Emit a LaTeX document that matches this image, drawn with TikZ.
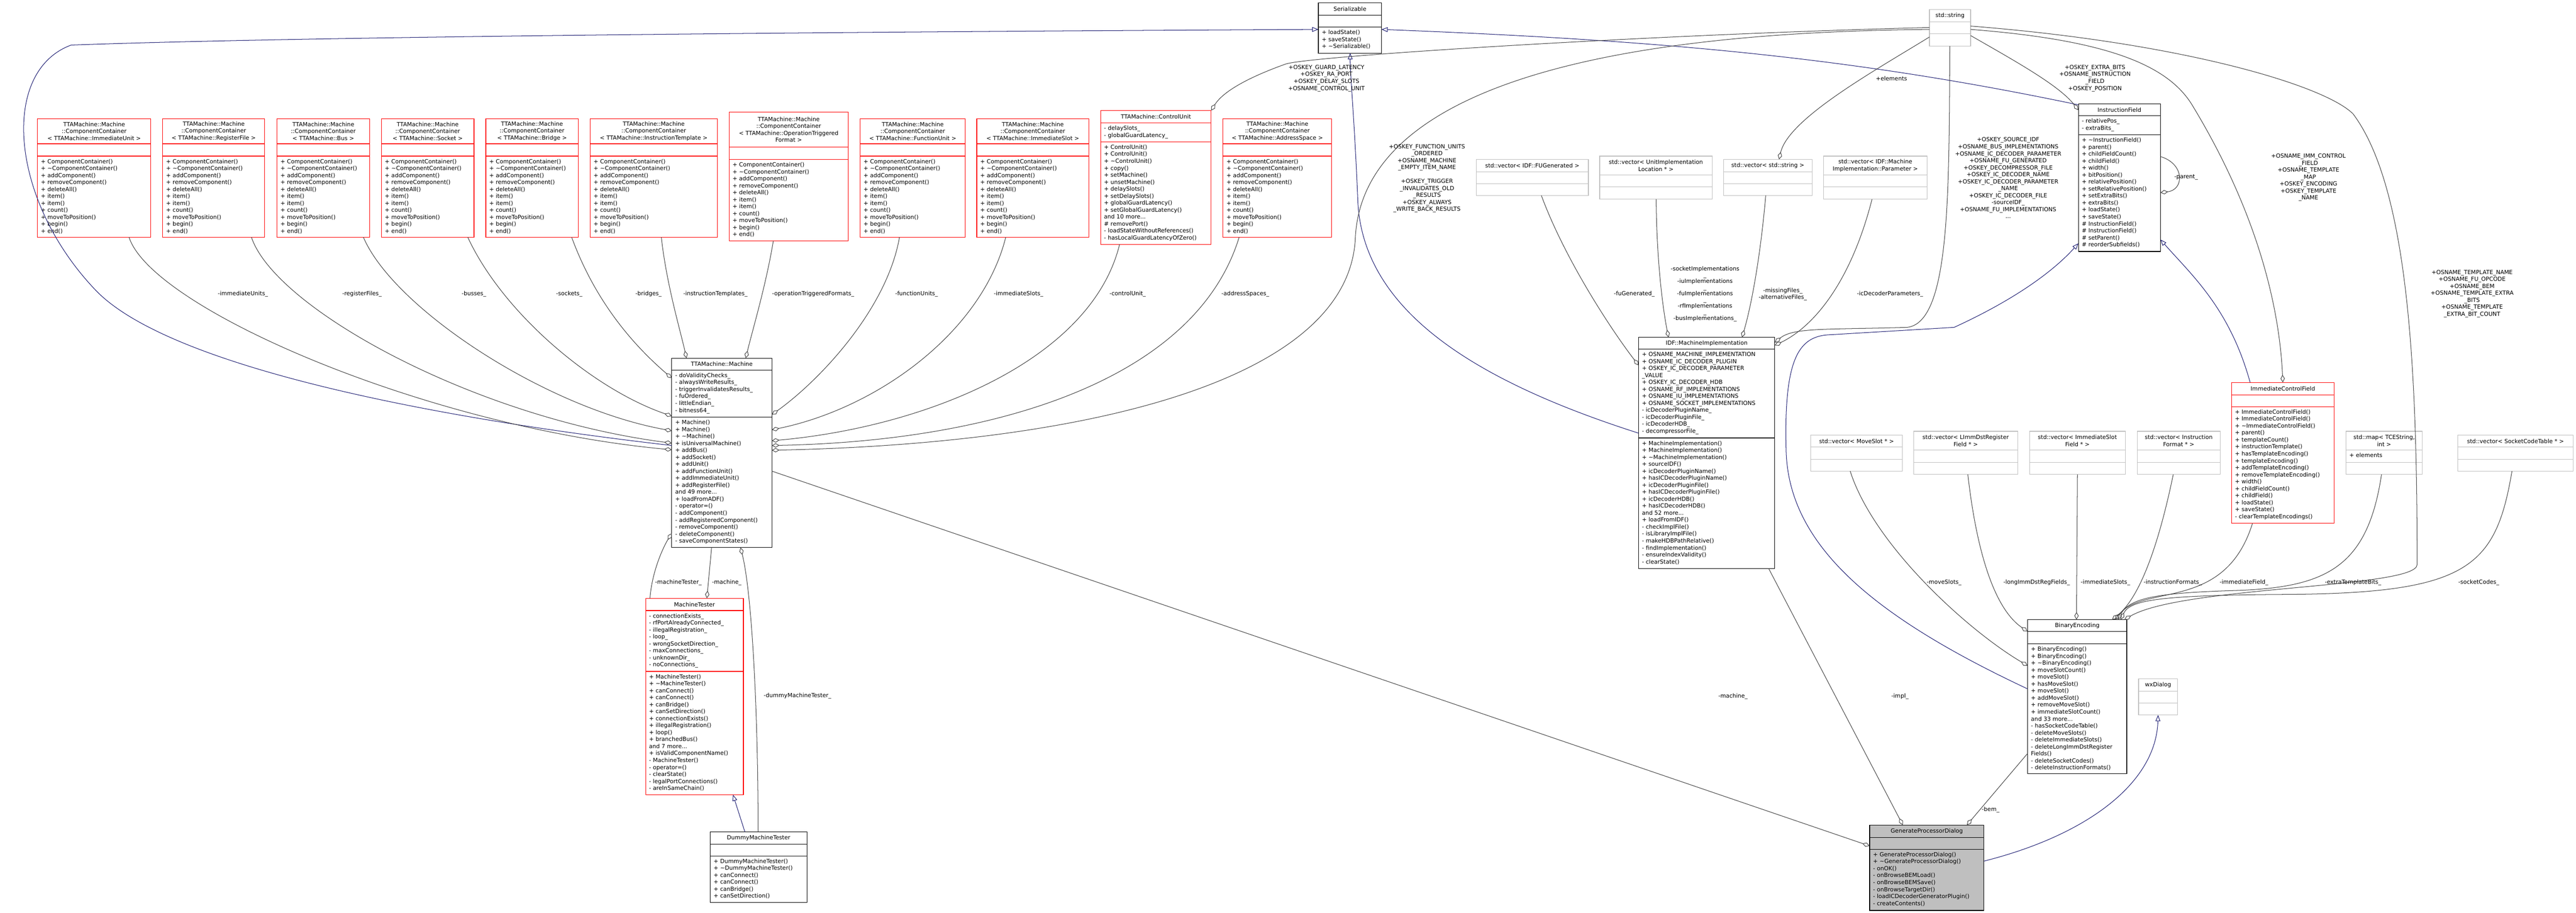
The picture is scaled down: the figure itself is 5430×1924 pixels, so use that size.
\documentclass[tikz,border=0pt]{standalone}
\usepackage{fontspec}
\setmainfont{DejaVu Sans}
\usetikzlibrary{arrows.meta,calc}
\definecolor{ugrey}{HTML}{404040}
\definecolor{unavy}{HTML}{191970}
\definecolor{lgrey}{HTML}{BFBFBF}
\definecolor{dfill}{HTML}{BFBFBF}
\newcommand\tld{\textasciitilde}
\newcommand\ccmeth{+ ComponentContainer()\\+ \tld ComponentContainer()\\+ addComponent()\\+ removeComponent()\\+ deleteAll()\\+ item()\\+ item()\\+ count()\\+ moveToPosition()\\+ begin()\\+ end()}
\newcommand\ubox[9]{%
  \node[#2, anchor=north west, inner sep=0pt, outer sep=0pt, minimum width={(#5-#3)*1pt}, minimum height={(#6-#4)*1pt}] (#1) at (#3,#4) {};
  \draw[#2, fill=none] (#3,#7) -- (#5,#7);
  \draw[#2, fill=none] (#3,#8) -- (#5,#8);
  \node[ttl] (#1-t) at ({(#3+#5)/2},{(#4+#7)/2}) {#9};}
\newcommand\utx[4]{\node[txt] (#1) at ({#2+7},{#3+6}) {#4};}
\begin{document}
\begin{tikzpicture}[x=1pt,y=-1pt,
  bk/.style={draw=black, line width=1.3pt, fill=white},
  rd/.style={draw=red, line width=1.3pt, fill=white},
  gy/.style={draw=lgrey, line width=1.3pt, fill=white},
  gf/.style={draw=black, line width=1.3pt, fill=dfill},
  ttl/.style={font=\fontsize{12}{14.7}\selectfont, align=center, inner sep=0pt},
  txt/.style={font=\fontsize{12}{14.7}\selectfont, align=left, inner sep=0pt, anchor=north west},
  lbl/.style={font=\fontsize{12}{14.7}\selectfont, align=center, inner sep=0pt},
  use/.style={draw=ugrey, line width=1.1pt, -{Diamond[open,length=16pt,width=9pt]}},
  inh/.style={draw=unavy, line width=1.1pt, -{Triangle[open,length=13pt,width=10pt]}}]
\path[use as bounding box, fill=white] (0,0) rectangle (5430,1924);

% ---- top row containers
\ubox{cIU}{rd}{79}{250}{318}{500}{303}{329}{TTAMachine::Machine\\::ComponentContainer\\< TTAMachine::ImmediateUnit >}
\utx{cIUm}{79}{329}{\ccmeth}
\ubox{cRF}{rd}{343}{250}{558}{500}{303}{329}{TTAMachine::Machine\\::ComponentContainer\\< TTAMachine::RegisterFile >}
\utx{cRFm}{343}{329}{\ccmeth}
\ubox{cBus}{rd}{584}{250}{779}{500}{303}{329}{TTAMachine::Machine\\::ComponentContainer\\< TTAMachine::Bus >}
\utx{cBusm}{584}{329}{\ccmeth}
\ubox{cSock}{rd}{804}{250}{999}{500}{303}{329}{TTAMachine::Machine\\::ComponentContainer\\< TTAMachine::Socket >}
\utx{cSockm}{804}{329}{\ccmeth}
\ubox{cBr}{rd}{1024}{250}{1219}{500}{303}{329}{TTAMachine::Machine\\::ComponentContainer\\< TTAMachine::Bridge >}
\utx{cBrm}{1024}{329}{\ccmeth}
\ubox{cIT}{rd}{1244}{250}{1512}{500}{303}{329}{TTAMachine::Machine\\::ComponentContainer\\< TTAMachine::InstructionTemplate >}
\utx{cITm}{1244}{329}{\ccmeth}
\ubox{cOTF}{rd}{1537}{236}{1788}{508}{310}{336}{TTAMachine::Machine\\::ComponentContainer\\< TTAMachine::OperationTriggered\\Format >}
\utx{cOTFm}{1537}{336}{\ccmeth}
\ubox{cFU}{rd}{1813}{250}{2035}{500}{303}{329}{TTAMachine::Machine\\::ComponentContainer\\< TTAMachine::FunctionUnit >}
\utx{cFUm}{1813}{329}{\ccmeth}
\ubox{cIS}{rd}{2059}{250}{2295}{500}{303}{329}{TTAMachine::Machine\\::ComponentContainer\\< TTAMachine::ImmediateSlot >}
\utx{cISm}{2059}{329}{\ccmeth}
\ubox{cCU}{rd}{2320}{233}{2553}{515}{259}{299}{TTAMachine::ControlUnit}
\utx{cCUa}{2320}{259}{- delaySlots\_\\- globalGuardLatency\_}
\utx{cCUm}{2320}{299}{+ ControlUnit()\\+ ControlUnit()\\+ \tld ControlUnit()\\+ copy()\\+ setMachine()\\+ unsetMachine()\\+ delaySlots()\\+ setDelaySlots()\\+ globalGuardLatency()\\+ setGlobalGuardLatency()\\and 10 more...\\\# removePort()\\- loadStateWithoutReferences()\\- hasLocalGuardLatencyOfZero()}
\ubox{cAS}{rd}{2578}{250}{2807}{500}{303}{329}{TTAMachine::Machine\\::ComponentContainer\\< TTAMachine::AddressSpace >}
\utx{cASm}{2578}{329}{\ccmeth}

% ---- Serializable, std::string, vectors
\ubox{ser}{bk}{2779}{6}{2912}{112}{32}{57}{Serializable}
\utx{serm}{2779}{57}{+ loadState()\\+ saveState()\\+ \tld Serializable()}
\ubox{str}{gy}{4067}{20}{4154}{97}{46}{71}{std::string}
\ubox{vFUG}{gy}{3112}{336}{3348}{412}{362}{387}{std::vector< IDF::FUGenerated >}
\ubox{vUIL}{gy}{3372}{329}{3609}{420}{369}{394}{std::vector< UnitImplementation\\Location * >}
\ubox{vStr}{gy}{3633}{336}{3820}{412}{362}{387}{std::vector< std::string >}
\ubox{vPar}{gy}{3844}{329}{4062}{420}{369}{394}{std::vector< IDF::Machine\\Implementation::Parameter >}

% ---- Machine
\ubox{mach}{bk}{1416}{755}{1627}{1154}{780}{879}{TTAMachine::Machine}
\utx{macha}{1416}{780}{- doValidityChecks\_\\- alwaysWriteResults\_\\- triggerInvalidatesResults\_\\- fuOrdered\_\\- littleEndian\_\\- bitness64\_}
\utx{machm}{1416}{879}{+ Machine()\\+ Machine()\\+ \tld Machine()\\+ isUniversalMachine()\\+ addBus()\\+ addSocket()\\+ addUnit()\\+ addFunctionUnit()\\+ addImmediateUnit()\\+ addRegisterFile()\\and 49 more...\\+ loadFromADF()\\- operator=()\\- addComponent()\\- addRegisteredComponent()\\- removeComponent()\\- deleteComponent()\\- saveComponentStates()}

\ubox{mt}{rd}{1361}{1261}{1567}{1675}{1287}{1415}{MachineTester}
\utx{mta}{1361}{1287}{- connectionExists\_\\- rfPortAlreadyConnected\_\\- illegalRegistration\_\\- loop\_\\- wrongSocketDirection\_\\- maxConnections\_\\- unknownDir\_\\- noConnections\_}
\utx{mtm}{1361}{1415}{+ MachineTester()\\+ \tld MachineTester()\\+ canConnect()\\+ canConnect()\\+ canBridge()\\+ canSetDirection()\\+ connectionExists()\\+ illegalRegistration()\\+ loop()\\+ branchedBus()\\and 7 more...\\+ isValidComponentName()\\- MachineTester()\\- operator=()\\- clearState()\\- legalPortConnections()\\- areInSameChain()}
\ubox{dmt}{bk}{1497}{1753}{1701}{1902}{1779}{1804}{DummyMachineTester}
\utx{dmtm}{1497}{1804}{+ DummyMachineTester()\\+ \tld DummyMachineTester()\\+ canConnect()\\+ canConnect()\\+ canBridge()\\+ canSetDirection()}

% ---- IDF
\ubox{idf}{bk}{3454}{711}{3741}{1198}{736}{923}{IDF::MachineImplementation}
\utx{idfa}{3454}{736}{+ OSNAME\_MACHINE\_IMPLEMENTATION\\+ OSNAME\_IC\_DECODER\_PLUGIN\\+ OSKEY\_IC\_DECODER\_PARAMETER\\\_VALUE\\+ OSKEY\_IC\_DECODER\_HDB\\+ OSNAME\_RF\_IMPLEMENTATIONS\\+ OSNAME\_IU\_IMPLEMENTATIONS\\+ OSNAME\_SOCKET\_IMPLEMENTATIONS\\- icDecoderPluginName\_\\- icDecoderPluginFile\_\\- icDecoderHDB\_\\- decompressorFile\_}
\utx{idfm}{3454}{923}{+ MachineImplementation()\\+ MachineImplementation()\\+ \tld MachineImplementation()\\+ sourceIDF()\\+ icDecoderPluginName()\\+ hasICDecoderPluginName()\\+ icDecoderPluginFile()\\+ hasICDecoderPluginFile()\\+ icDecoderHDB()\\+ hasICDecoderHDB()\\and 52 more...\\+ loadFromIDF()\\- checkImplFile()\\- isLibraryImplFile()\\- makeHDBPathRelative()\\- findImplementation()\\- ensureIndexValidity()\\- clearState()}

% ---- InstructionField etc
\ubox{ifld}{bk}{4381}{219}{4554}{530}{244}{284}{InstructionField}
\utx{ifa}{4381}{244}{- relativePos\_\\- extraBits\_}
\utx{ifm}{4381}{284}{+ \tld InstructionField()\\+ parent()\\+ childFieldCount()\\+ childField()\\+ width()\\+ bitPosition()\\+ relativePosition()\\+ setRelativePosition()\\+ setExtraBits()\\+ extraBits()\\+ loadState()\\+ saveState()\\\# InstructionField()\\\# InstructionField()\\\# setParent()\\\# reorderSubfields()}
\ubox{icf}{rd}{4704}{806}{4920}{1103}{832}{857}{ImmediateControlField}
\utx{icfm}{4704}{857}{+ ImmediateControlField()\\+ ImmediateControlField()\\+ \tld ImmediateControlField()\\+ parent()\\+ templateCount()\\+ instructionTemplate()\\+ hasTemplateEncoding()\\+ templateEncoding()\\+ addTemplateEncoding()\\+ removeTemplateEncoding()\\+ width()\\+ childFieldCount()\\+ childField()\\+ loadState()\\+ saveState()\\- clearTemplateEncodings()}
\ubox{vMS}{gy}{3817}{917}{4010}{993}{942}{968}{std::vector< MoveSlot * >}
\ubox{vLI}{gy}{4034}{909}{4253}{1000}{949}{975}{std::vector< LImmDstRegister\\Field * >}
\ubox{vISF}{gy}{4278}{909}{4480}{1000}{949}{975}{std::vector< ImmediateSlot\\Field * >}
\ubox{vIF}{gy}{4505}{909}{4680}{1000}{949}{975}{std::vector< Instruction\\Format * >}
\ubox{mapT}{gy}{4945}{909}{5106}{1000}{949}{975}{std::map< TCEString,\\int >}
\utx{mapTa}{4945}{949}{+ elements}
\ubox{vSCT}{gy}{5181}{917}{5424}{993}{942}{968}{std::vector< SocketCodeTable * >}

\ubox{be}{bk}{4274}{1306}{4483}{1631}{1331}{1357}{BinaryEncoding}
\utx{bem}{4274}{1357}{+ BinaryEncoding()\\+ BinaryEncoding()\\+ \tld BinaryEncoding()\\+ moveSlotCount()\\+ moveSlot()\\+ hasMoveSlot()\\+ moveSlot()\\+ addMoveSlot()\\+ removeMoveSlot()\\+ immediateSlotCount()\\and 33 more...\\- hasSocketCodeTable()\\- deleteMoveSlots()\\- deleteImmediateSlots()\\- deleteLongImmDstRegister\\Fields()\\- deleteSocketCodes()\\- deleteInstructionFormats()}
\ubox{wx}{gy}{4508}{1431}{4590}{1507}{1457}{1482}{wxDialog}
\ubox{gpd}{gf}{3941}{1739}{4182}{1919}{1765}{1790}{GenerateProcessorDialog}
\utx{gpdm}{3941}{1790}{+ GenerateProcessorDialog()\\+ \tld GenerateProcessorDialog()\\- onOK()\\- onBrowseBEMLoad()\\- onBrowseBEMSave()\\- onBrowseTargetDir()\\- loadICDecoderGeneratorPlugin()\\- createContents()}

% ---- inheritance
\draw[inh] ($(mach.north west)+(0,184)$) .. controls (900,880) and (350,770) .. (200,610) .. controls (20,420) and (0,150) .. (150,95) .. controls (700,75) and (2000,66) .. ($(ser.north west)+(0,56)$);
\draw[inh] ($(idf.north west)+(0,202)$) .. controls (3100,800) and (2870,650) .. (2862,420) .. controls (2855,250) and (2846,160) .. ($(ser.north west)+(67,106)$);
\draw[inh] ($(ifld.north west)+(0,2)$) .. controls (3900,120) and (3500,85) .. ($(ser.north west)+(133,56)$);
\draw[inh] ($(be.north west)+(0,146)$) .. controls (3950,1300) and (3770,1150) .. (3765,950) .. controls (3760,760) and (3790,712) .. (3850,706) -- (4119,690) .. controls (4250,630) and (4330,570) .. ($(ifld.north west)+(0,294)$);
\draw[inh] ($(icf.north west)+(39,0)$) .. controls (4700,650) and (4620,580) .. ($(ifld.north west)+(173,286)$);
\draw[inh] ($(dmt.north west)+(73,0)$) -- ($(mt.north west)+(184,414)$);
\draw[inh] ($(gpd.north west)+(241,76)$) .. controls (4400,1760) and (4545,1650) .. ($(wx.north west)+(41,76)$);

% ---- usage: containers -> Machine
\draw[use] ($(cIU.north west)+(193,250)$) .. controls (320,650) and (900,900) .. ($(mach.north west)+(0,193)$);
\draw[use] ($(cRF.north west)+(187,250)$) .. controls (580,650) and (1000,880) .. ($(mach.north west)+(0,179)$);
\draw[use] ($(cBus.north west)+(182,250)$) .. controls (830,650) and (1150,860) .. ($(mach.north west)+(0,153)$);
\draw[use] ($(cSock.north west)+(182,250)$) .. controls (1060,660) and (1250,820) .. ($(mach.north west)+(0,122)$);
\draw[use] ($(cBr.north west)+(181,250)$) .. controls (1260,650) and (1350,740) .. ($(mach.north west)+(0,42)$);
\draw[use] ($(cIT.north west)+(150,250)$) .. controls (1405,600) and (1435,700) .. ($(mach.north west)+(31,0)$);
\draw[use] ($(cOTF.north west)+(93,272)$) .. controls (1615,600) and (1585,700) .. ($(mach.north west)+(156,0)$);
\draw[use] ($(cFU.north west)+(83,250)$) .. controls (1870,650) and (1730,800) .. ($(mach.north west)+(211,119)$);
\draw[use] ($(cIS.north west)+(61,250)$) .. controls (2070,700) and (1850,860) .. ($(mach.north west)+(211,151)$);
\draw[use] ($(cCU.north west)+(40,282)$) .. controls (2300,760) and (1950,900) .. ($(mach.north west)+(211,174)$);
\draw[use] ($(cAS.north west)+(34,250)$) .. controls (2520,800) and (2100,930) .. ($(mach.north west)+(211,184)$);
\draw[use] ($(str.north west)+(0,42)$) .. controls (3200,70) and (2870,250) .. (2857,500) .. controls (2845,800) and (2300,935) .. ($(mach.north west)+(211,194)$);

% ---- std::string usages
\draw[use] ($(str.north west)+(0,38)$) .. controls (3500,72) and (2760,118) .. (2710,135) .. controls (2640,160) and (2580,190) .. ($(cCU.north west)+(233,0)$);
\draw[use] ($(str.north west)+(0,58)$) .. controls (3950,150) and (3770,250) .. ($(vStr.north west)+(117,0)$);
\draw[use] ($(str.north west)+(43,77)$) .. controls (4108,400) and (4112,680) .. (4020,690) .. controls (3850,695) and (3780,690) .. ($(idf.north west)+(287,11)$);
\draw[use] ($(str.north west)+(87,55)$) .. controls (4250,130) and (4340,180) .. ($(ifld.north west)+(0,13)$);
\draw[use] ($(str.north west)+(87,42)$) .. controls (4450,85) and (4570,140) .. (4620,220) .. controls (4760,450) and (4805,650) .. ($(icf.north west)+(108,0)$);
\draw[use] ($(str.north west)+(87,35)$) .. controls (4600,90) and (4900,180) .. (4960,240) .. controls (5080,400) and (5095,800) .. (5095,1190) .. controls (5095,1240) and (4600,1235) .. ($(be.north west)+(204,0)$);

% ---- IDF usages
\draw[use] ($(vFUG.north west)+(137,76)$) .. controls (3300,550) and (3400,700) .. ($(idf.north west)+(0,59)$);
\draw[use] ($(vUIL.north west)+(119,91)$) .. controls (3492,550) and (3505,650) .. ($(idf.north west)+(63,0)$);
\draw[use] ($(vStr.north west)+(89,76)$) .. controls (3710,550) and (3690,650) .. ($(idf.north west)+(218,0)$);
\draw[use] ($(vPar.north west)+(102,91)$) .. controls (3900,600) and (3820,690) .. ($(idf.north west)+(287,17)$);

% ---- BinaryEncoding usages
\draw[use] ($(vMS.north west)+(83,76)$) .. controls (3950,1150) and (4150,1330) .. ($(be.north west)+(0,97)$);
\draw[use] ($(vLI.north west)+(114,91)$) .. controls (4165,1150) and (4200,1280) .. ($(be.north west)+(0,25)$);
\draw[use] ($(vISF.north west)+(101,91)$) -- ($(be.north west)+(103,0)$);
\draw[use] ($(vIF.north west)+(76,91)$) .. controls (4550,1150) and (4510,1260) .. ($(be.north west)+(178,0)$);
\draw[use] ($(icf.north west)+(44,297)$) .. controls (4690,1290) and (4520,1230) .. ($(be.north west)+(184,0)$);
\draw[use] ($(mapT.north west)+(75,91)$) .. controls (4990,1200) and (4900,1240) .. (4700,1245) .. controls (4550,1250) and (4490,1260) .. ($(be.north west)+(190,0)$);
\draw[use] ($(vSCT.north west)+(114,76)$) .. controls (5260,1200) and (5200,1252) .. (4800,1253) .. controls (4550,1255) and (4490,1265) .. ($(be.north west)+(196,0)$);

% ---- GPD usages
\draw[use] ($(mach.north west)+(211,238)$) -- ($(gpd.north west)+(0,44)$);
\draw[use] ($(idf.north west)+(274,487)$) -- ($(gpd.north west)+(70,0)$);
\draw[use] ($(be.north west)+(0,282)$) -- ($(gpd.north west)+(205,0)$);

% ---- tester usages
\draw[use] ($(mt.north west)+(9,0)$) .. controls (1375,1200) and (1400,1150) .. ($(mach.north west)+(0,369)$);
\draw[use] ($(mach.north west)+(84,399)$) -- ($(mt.north west)+(129,0)$);
\draw[use] ($(dmt.north west)+(101,0)$) .. controls (1598,1500) and (1585,1250) .. ($(mach.north west)+(145,399)$);
\draw[use] ($(ifld.north west)+(173,111)$) .. controls (4605,345) and (4605,400) .. ($(ifld.north west)+(173,187)$);

% ---- labels
\node[lbl] (l1) at (512,620) {-immediateUnits\_};
\node[lbl] (l2) at (763,620) {-registerFiles\_};
\node[lbl] (l3) at (999,620) {-busses\_};
\node[lbl] (l4) at (1200,620) {-sockets\_};
\node[lbl] (l5) at (1367,620) {-bridges\_};
\node[lbl] (l6) at (1508,620) {-instructionTemplates\_};
\node[lbl] (l7) at (1714,620) {-operationTriggeredFormats\_};
\node[lbl] (l8) at (1932,620) {-functionUnits\_};
\node[lbl] (l9) at (2147,620) {-immediateSlots\_};
\node[lbl] (l10) at (2377,620) {-controlUnit\_};
\node[lbl] (l11) at (2625,620) {-addressSpaces\_};
\node[lbl] (l12) at (2796,165) {+OSKEY\_GUARD\_LATENCY\\+OSKEY\_RA\_PORT\\+OSKEY\_DELAY\_SLOTS\\+OSNAME\_CONTROL\_UNIT};
\node[lbl] (l13) at (3008,376) {+OSKEY\_FUNCTION\_UNITS\\\_ORDERED\\+OSNAME\_MACHINE\\\_EMPTY\_ITEM\_NAME\\\strut\\+OSKEY\_TRIGGER\\\_INVALIDATES\_OLD\\\_RESULTS\\+OSKEY\_ALWAYS\\\_WRITE\_BACK\_RESULTS};
\node[lbl] (l14) at (3987,165) {+elements};
\node[lbl] (l15) at (4233,375) {+OSKEY\_SOURCE\_IDF\\+OSNAME\_BUS\_IMPLEMENTATIONS\\+OSNAME\_IC\_DECODER\_PARAMETER\\+OSNAME\_FU\_GENERATED\\+OSKEY\_DECOMPRESSOR\_FILE\\+OSKEY\_IC\_DECODER\_NAME\\+OSKEY\_IC\_DECODER\_PARAMETER\\\_NAME\\+OSKEY\_IC\_DECODER\_FILE\\-sourceIDF\_\\+OSNAME\_FU\_IMPLEMENTATIONS\\...};
\node[lbl] (l16) at (4416,165) {+OSKEY\_EXTRA\_BITS\\+OSNAME\_INSTRUCTION\\\_FIELD\\+OSKEY\_POSITION};
\node[lbl] (l17) at (4608,374) {-parent\_};
\node[lbl] (l18) at (4866,374) {+OSNAME\_IMM\_CONTROL\\\_FIELD\\+OSNAME\_TEMPLATE\\\_MAP\\+OSKEY\_ENCODING\\+OSKEY\_TEMPLATE\\\_NAME};
\node[lbl] (l19) at (5211,619) {+OSNAME\_TEMPLATE\_NAME\\+OSNAME\_FU\_OPCODE\\+OSNAME\_BEM\\+OSNAME\_TEMPLATE\_EXTRA\\\_BITS\\+OSNAME\_TEMPLATE\\\_EXTRA\_BIT\_COUNT};
\node[lbl] (l20) at (3445,620) {-fuGenerated\_};
\node[lbl, font=\fontsize{12}{13}\selectfont] (l21) at (3594,620) {-socketImplementations\\\_\\-iuImplementations\\\_\\-fuImplementations\\\_\\-rfImplementations\\\_\\-busImplementations\_};
\node[lbl] (l22) at (3758,620) {-missingFiles\_\\-alternativeFiles\_};
\node[lbl] (l23) at (3984,620) {-icDecoderParameters\_};
\node[lbl] (l24) at (4098,1228) {-moveSlots\_};
\node[lbl] (l25) at (4293,1228) {-longImmDstRegFields\_};
\node[lbl] (l26) at (4438,1228) {-immediateSlots\_};
\node[lbl] (l27) at (4580,1228) {-instructionFormats\_};
\node[lbl] (l28) at (4730,1228) {-immediateField\_};
\node[lbl] (l29) at (4960,1228) {-extraTemplateBits\_};
\node[lbl] (l30) at (5225,1228) {-socketCodes\_};
\node[lbl] (l31) at (3653,1468) {-machine\_};
\node[lbl] (l32) at (4005,1468) {-impl\_};
\node[lbl] (l33) at (4196,1707) {-bem\_};
\node[lbl] (l34) at (1430,1228) {-machineTester\_};
\node[lbl] (l35) at (1532,1228) {-machine\_};
\node[lbl] (l36) at (1681,1467) {-dummyMachineTester\_};
\end{tikzpicture}
\end{document}
